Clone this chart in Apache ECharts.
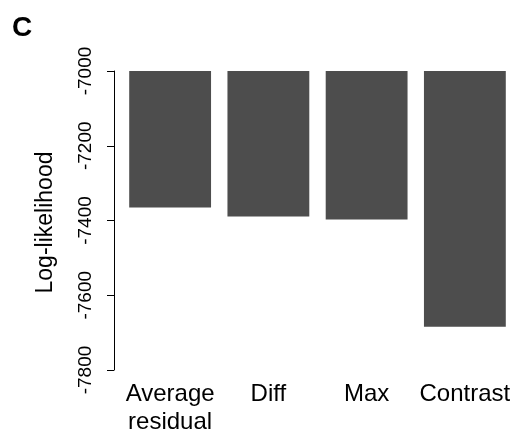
<!DOCTYPE html>
<html>
<head>
<meta charset="utf-8">
<script src="https://cdn.jsdelivr.net/npm/echarts@6/dist/echarts.min.js"></script>
<style>
  html, body { margin: 0; padding: 0; background: #fff; }
  #chart { width: 514px; height: 440px; }
</style>
</head>
<body>
<div id="chart"></div>
<script>
// data
const categories = ['Average\nresidual', 'Diff', 'Max', 'Contrast']
const logLik = [-7365, -7389, -7397, -7684]
const yTicks = { min: -7800, max: -7000, step: 200 }

const font = '"Liberation Sans", Arial, sans-serif'

const chart = echarts.init(document.getElementById('chart'))

chart.setOption({
  backgroundColor: '#fff',
  animation: false,
  title: {
    text: 'C',
    left: 7,
    top: 9,
    textStyle: { fontFamily: font, fontSize: 28, fontWeight: 'bold', color: '#000' }
  },
  grid: { left: 121, width: 393, top: 71, height: 299 },
  xAxis: {
    type: 'category',
    data: categories,
    axisLine: { show: false },
    axisTick: { show: false },
    axisLabel: {
      color: '#000',
      fontFamily: font,
      fontSize: 24,
      lineHeight: 28,
      margin: 10,
      interval: 0
    }
  },
  yAxis: {
    type: 'value',
    min: yTicks.min,
    max: yTicks.max,
    interval: yTicks.step,
    startValue: yTicks.max,
    offset: 7,
    name: 'Log-likelihood',
    nameLocation: 'middle',
    nameRotate: 90,
    nameGap: 57,
    nameTextStyle: { fontFamily: font, fontSize: 23, color: '#000', padding: [0, 4, 0, 0] },
    axisLine: { show: true, lineStyle: { color: '#000', width: 1 } },
    axisTick: { show: true, length: 7, lineStyle: { color: '#000' } },
    axisLabel: {
      rotate: 90,
      color: '#000',
      fontFamily: font,
      fontSize: 19,
      margin: 19,
      formatter: (v) => String(v)
    },
    splitLine: { show: false }
  },
  series: [
    {
      type: 'bar',
      data: logLik,
      barCategoryGap: '16.7%',
      clip: true,
      itemStyle: { color: '#4d4d4d' }
    }
  ]
})
</script>
</body>
</html>
